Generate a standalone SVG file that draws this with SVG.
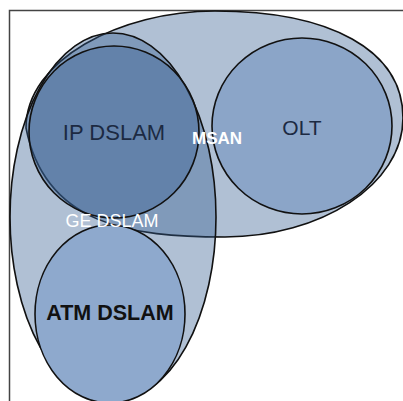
<svg xmlns="http://www.w3.org/2000/svg" width="403" height="401" viewBox="0 0 403 401">
<style>
.tr{fill:rgb(54,94,145);fill-opacity:0.392;stroke:#111;stroke-width:1.6}
.op{stroke:#111;stroke-width:1.6}
text{font-family:"Liberation Sans",Arial,sans-serif;text-anchor:middle}
</style>
<rect width="403" height="401" fill="#fff"/>
<path d="M9.5,401 V10.5 H403" fill="none" stroke="#444" stroke-width="1.5"/>
<g id="msan">
<path class="tr" d="M26,128 C26,60 120,11 215,11 C330,11 403,50 403,118 C403,185 320,237 225,237 C130,237 45,225 26,128 Z"/>
</g>
<g id="ge-dslam">
<ellipse class="tr" cx="113" cy="217" rx="103" ry="184"/>
</g>
<g id="ip-dslam">
<ellipse class="tr" cx="114" cy="132" rx="85" ry="86"/>
<text x="114" y="140" font-size="22" fill="#1c2a42">IP DSLAM</text>
</g>
<g id="olt">
<ellipse class="op" cx="302" cy="126" rx="90" ry="88" fill="#8ba5c8"/>
<text x="302" y="135" font-size="21" fill="#1c2a42">OLT</text>
</g>
<g id="atm-dslam">
<ellipse class="op" cx="110" cy="314" rx="75" ry="89" fill="#8ea9cd"/>
<text x="110" y="320" font-size="21.5" font-weight="bold" fill="#111">ATM DSLAM</text>
</g>
<text x="217" y="144" font-size="17" font-weight="bold" fill="#fff">MSAN</text>
<text x="112" y="227" font-size="18" fill="#fff">GE DSLAM</text>
</svg>
